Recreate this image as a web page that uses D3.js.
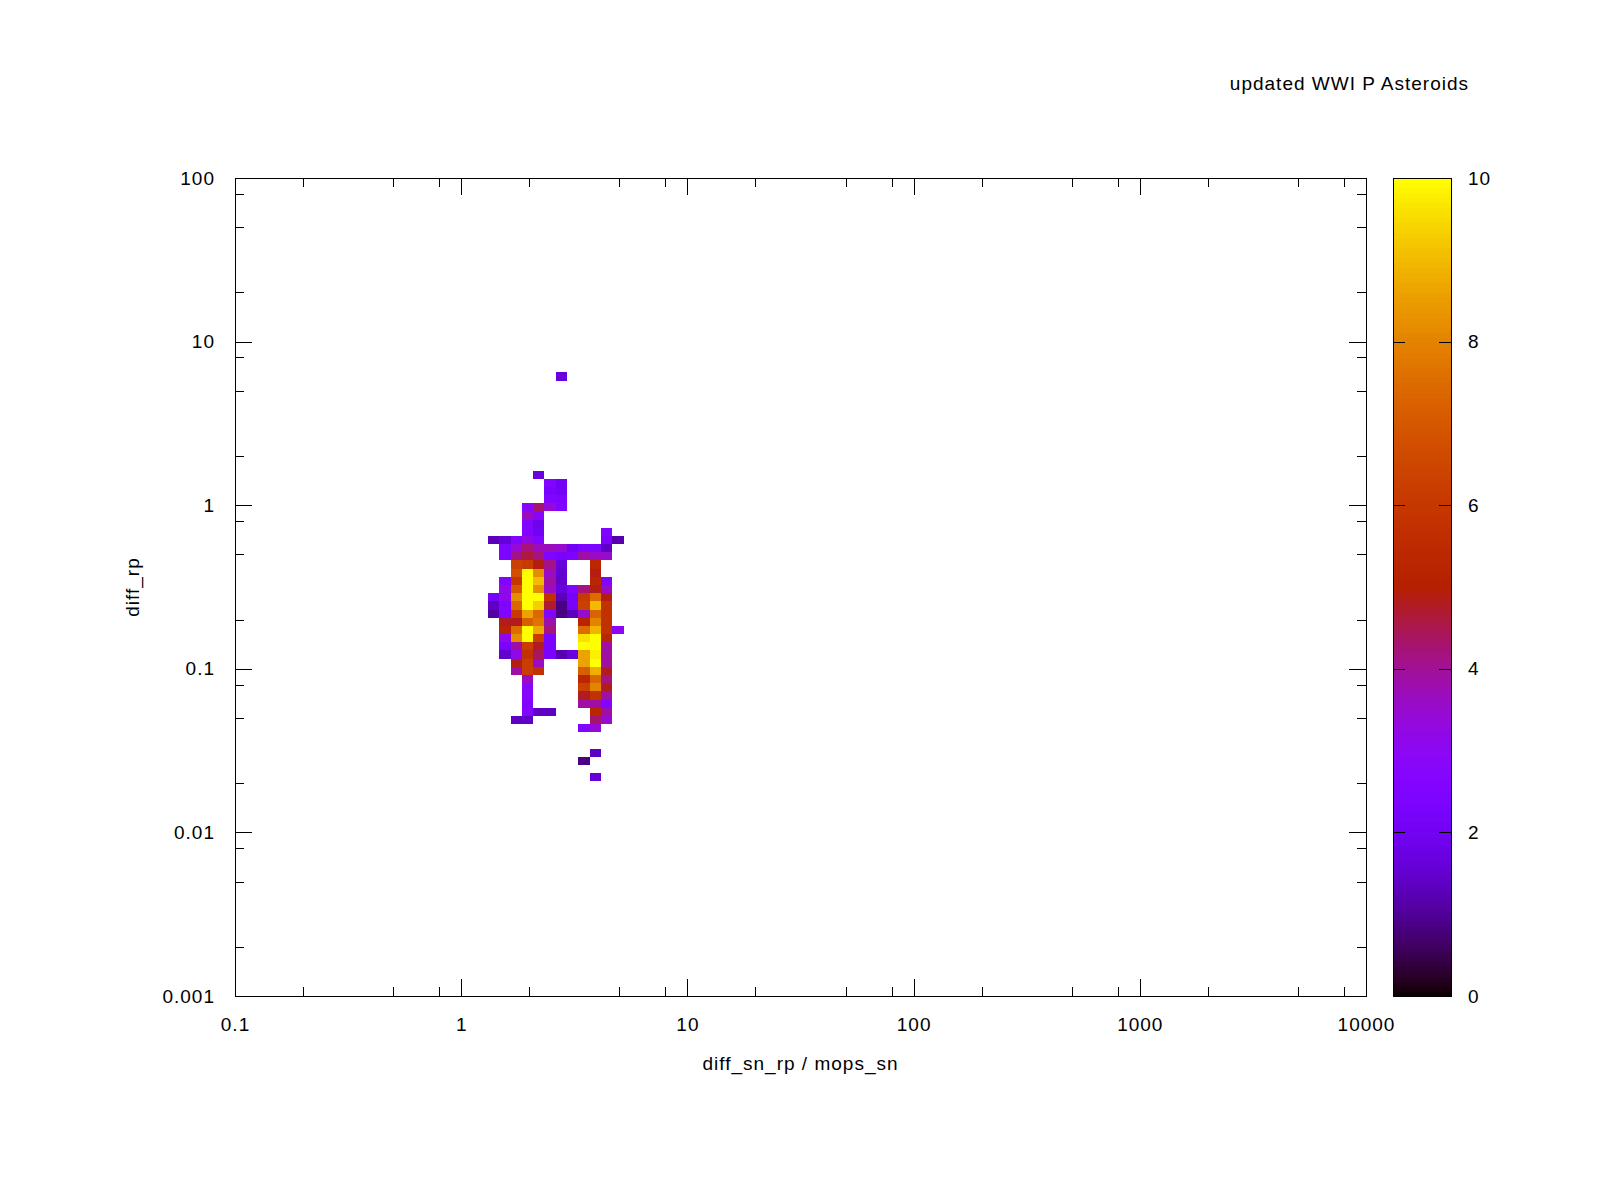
<!DOCTYPE html>
<html lang="en">
<head>
<meta charset="utf-8">
<title>updated WWI P Asteroids</title>
<script src="https://d3js.org/d3.v7.min.js"></script>
<style>
  body { margin: 0; background: #fff; }
  text { font-family: "Liberation Sans", Arial, sans-serif; font-size: 19px; letter-spacing: 1px; fill: #000; }
</style>
</head>
<body>
<script>
// ---- data ----
const _ = null;
const chartTitle = "updated WWI P Asteroids";
const xTitle = "diff_sn_rp / mops_sn";
const yTitle = "diff_rp";

const xTicks = [0.1, 1, 10, 100, 1000, 10000];
const xTickLabels = ["0.1", "1", "10", "100", "1000", "10000"];
const yTicks = [0.001, 0.01, 0.1, 1, 10, 100];
const yTickLabels = ["0.001", "0.01", "0.1", "1", "10", "100"];
const cbTicks = [0, 2, 4, 6, 8, 10];

// histogram bins, in log10 units
const binSize = 0.05;
const colLeftLog = [0.118, 0.168, 0.218, 0.268, 0.318, 0.368, 0.418, 0.468, 0.518, 0.568, 0.618, 0.668];
const rowTopLog = [
   0.812,  0.212,  0.162,  0.112,  0.062,  0.012, -0.038, -0.088, -0.138, -0.188,
  -0.238, -0.288, -0.338, -0.388, -0.438, -0.488, -0.538, -0.588, -0.638, -0.688,
  -0.738, -0.788, -0.838, -0.888, -0.938, -0.988, -1.038, -1.088, -1.138, -1.188,
  -1.238, -1.288, -1.338, -1.488, -1.538, -1.638
];
const cellValues = [
  [_,_,_,_,_,_,1.7,_,_,_,_,_],
  [_,_,_,_,1.7,_,_,_,_,_,_,_],
  [_,_,_,_,_,2.5,2.0,_,_,_,_,_],
  [_,_,_,_,_,2.3,2.1,_,_,_,_,_],
  [_,_,_,_,_,2.5,2.4,_,_,_,_,_],
  [_,_,_,2.8,4.3,3.4,2.5,_,_,_,_,_],
  [_,_,_,3.6,2.8,_,_,_,_,_,_,_],
  [_,_,_,2.5,1.9,_,_,_,_,_,_,_],
  [_,_,_,2.5,2.0,_,_,_,_,_,2.5,_],
  [1.3,1.6,2.5,3.3,2.5,_,_,_,_,_,2.3,1.2],
  [_,2.4,3.4,4.2,3.7,3.7,3.5,2.0,2.4,2.4,1.4,_],
  [_,2.4,4.1,4.6,4.2,2.5,2.3,2.4,3.9,3.6,3.5,_],
  [_,_,6.3,6.1,4.9,4.1,1.7,_,_,5.4,_,_],
  [_,_,6.8,10,8.2,3.6,1.5,_,_,4.9,_,_],
  [_,2.5,6.0,10,9.0,3.9,1.5,_,_,5.3,2.5,_],
  [_,3.2,7.0,10,8.2,3.6,1.7,2.5,4.2,4.9,3.6,_],
  [2.2,3.1,8.2,10,10,5.8,1.3,2.2,6.1,7.5,4.9,_],
  [1.4,2.5,7.4,10,9.3,4.7,0.85,2.2,6.3,9.0,5.8,_],
  [1.1,2.5,6.1,8.6,7.4,2.5,0.85,1.3,3.5,7.3,5.8,_],
  [_,4.8,4.8,7.2,7.7,3.8,_,_,5.2,8.0,5.8,_],
  [_,5.2,7.5,10,8.7,4.2,_,_,7.5,8.9,5.8,3.0],
  [_,3.2,8.2,10,6.2,2.3,_,_,9.6,10,5.3,_],
  [_,2.3,3.9,6.2,4.8,2.3,_,_,10,10,3.9,_],
  [_,1.5,3.2,5.8,4.4,2.3,1.2,1.7,8.6,9.8,3.9,_],
  [_,_,4.9,6.2,3.6,_,_,_,8.6,10,3.9,_],
  [_,_,3.9,6.2,5.8,_,_,_,7.2,8.8,4.8,_],
  [_,_,_,3.6,_,_,_,_,5.3,7.4,4.2,_],
  [_,_,_,2.8,_,_,_,_,6.3,8.0,4.8,_],
  [_,_,_,2.8,_,_,_,_,4.8,5.8,3.9,_],
  [_,_,_,2.5,_,_,_,_,3.9,3.9,2.5,_],
  [_,_,_,2.5,1.4,1.4,_,_,_,5.3,3.9,_],
  [_,_,1.4,1.4,_,_,_,_,_,4.3,3.5,_],
  [_,_,_,_,_,_,_,_,2.5,3.4,_,_],
  [_,_,_,_,_,_,_,_,_,1.4,_,_],
  [_,_,_,_,_,_,_,_,0.85,_,_,_],
  [_,_,_,_,_,_,_,_,_,1.6,_,_]
];

// ---- layout ----
const w = 1600, h = 1200;
const plotL = 235, plotR = 1366, plotT = 178, plotB = 996;
const cbL = 1393, cbR = 1451;

const svg = d3.select("body").append("svg")
    .attr("width", w).attr("height", h);
svg.append("rect").attr("width", w).attr("height", h).attr("fill", "#fff");

const x = d3.scaleLog().domain([0.1, 10000]).range([plotL, plotR]);
const y = d3.scaleLog().domain([0.001, 100]).range([plotB, plotT]);
const cb = d3.scaleLinear().domain([0, 10]).range([plotB, plotT]);

// gnuplot default palette (rgbformulae 7,5,15)
function palette(v) {
  const t = Math.max(0, Math.min(1, v / 10));
  const r = Math.sqrt(t), g = t * t * t, b = Math.max(0, Math.sin(2 * Math.PI * t));
  return d3.rgb(r * 255, g * 255, b * 255).toString();
}

// flatten cells
const cells = [];
cellValues.forEach((row, ri) => {
  row.forEach((v, ci) => {
    if (v !== null) cells.push({ x0: colLeftLog[ci], y0: rowTopLog[ri], v: v });
  });
});

svg.append("g").attr("shape-rendering", "crispEdges")
  .selectAll("rect").data(cells).enter().append("rect")
    .attr("x", d => x(Math.pow(10, d.x0)))
    .attr("y", d => y(Math.pow(10, d.y0)))
    .attr("width", d => x(Math.pow(10, d.x0 + binSize)) - x(Math.pow(10, d.x0)))
    .attr("height", d => y(Math.pow(10, d.y0 - binSize)) - y(Math.pow(10, d.y0)))
    .attr("fill", d => palette(d.v));

// minor ticks at 2, 5, 8 of each decade
const xMinor = [], yMinor = [];
xTicks.slice(0, -1).forEach(t => [2, 5, 8].forEach(m => xMinor.push(t * m)));
yTicks.slice(0, -1).forEach(t => [2, 5, 8].forEach(m => yMinor.push(t * m)));

function styleAxis(g) {
  g.select(".domain").remove();
  g.selectAll("line").attr("stroke", "#000").attr("stroke-width", 1);
  g.selectAll("text").style("font-size", "19px").style("letter-spacing", "1px").attr("fill", "#000")
    .style("font-family", "'Liberation Sans', Arial, sans-serif");
}

const ax = svg.append("g").attr("shape-rendering", "crispEdges");
// bottom
ax.append("g").attr("transform", `translate(0,${plotB})`)
  .call(d3.axisBottom(x).tickValues(xTicks).tickFormat((d, i) => xTickLabels[i])
        .tickSizeInner(-17).tickSizeOuter(0).tickPadding(22))
  .call(styleAxis);
ax.append("g").attr("transform", `translate(0,${plotB})`)
  .call(d3.axisBottom(x).tickValues(xMinor).tickFormat("").tickSizeInner(-9).tickSizeOuter(0))
  .call(styleAxis);
// top mirror
ax.append("g").attr("transform", `translate(0,${plotT})`)
  .call(d3.axisTop(x).tickValues(xTicks).tickFormat("").tickSizeInner(-17).tickSizeOuter(0))
  .call(styleAxis);
ax.append("g").attr("transform", `translate(0,${plotT})`)
  .call(d3.axisTop(x).tickValues(xMinor).tickFormat("").tickSizeInner(-9).tickSizeOuter(0))
  .call(styleAxis);
// left
ax.append("g").attr("transform", `translate(${plotL},0)`)
  .call(d3.axisLeft(y).tickValues(yTicks).tickFormat((d, i) => yTickLabels[i])
        .tickSizeInner(-17).tickSizeOuter(0).tickPadding(20))
  .call(styleAxis);
ax.append("g").attr("transform", `translate(${plotL},0)`)
  .call(d3.axisLeft(y).tickValues(yMinor).tickFormat("").tickSizeInner(-9).tickSizeOuter(0))
  .call(styleAxis);
// right mirror
ax.append("g").attr("transform", `translate(${plotR},0)`)
  .call(d3.axisRight(y).tickValues(yTicks).tickFormat("").tickSizeInner(-17).tickSizeOuter(0))
  .call(styleAxis);
ax.append("g").attr("transform", `translate(${plotR},0)`)
  .call(d3.axisRight(y).tickValues(yMinor).tickFormat("").tickSizeInner(-9).tickSizeOuter(0))
  .call(styleAxis);

// border
ax.append("rect")
  .attr("x", plotL).attr("y", plotT)
  .attr("width", plotR - plotL).attr("height", plotB - plotT)
  .attr("fill", "none").attr("stroke", "#000").attr("stroke-width", 1);

// colour box
const nSteps = 164;
const steps = d3.range(nSteps).map(i => i * 10 / nSteps);
svg.append("g").attr("shape-rendering", "crispEdges")
  .selectAll("rect").data(steps).enter().append("rect")
    .attr("x", cbL).attr("width", cbR - cbL)
    .attr("y", d => cb(d + 10 / nSteps))
    .attr("height", d => cb(d) - cb(d + 10 / nSteps) + 0.5)
    .attr("fill", d => palette(d + 5 / nSteps));

const cbg = svg.append("g").attr("shape-rendering", "crispEdges");
cbg.append("g").attr("transform", `translate(${cbL},0)`)
  .call(d3.axisLeft(cb).tickValues(cbTicks).tickFormat("").tickSizeInner(-12).tickSizeOuter(0))
  .call(styleAxis);
cbg.append("g").attr("transform", `translate(${cbR},0)`)
  .call(d3.axisRight(cb).tickValues(cbTicks).tickFormat(d3.format("d"))
        .tickSizeInner(-12).tickSizeOuter(0).tickPadding(17))
  .call(styleAxis);
cbg.append("rect")
  .attr("x", cbL).attr("y", plotT)
  .attr("width", cbR - cbL).attr("height", plotB - plotT)
  .attr("fill", "none").attr("stroke", "#000").attr("stroke-width", 1);

// titles
svg.append("text")
  .attr("x", 1469).attr("y", 90)
  .attr("text-anchor", "end")
  .text(chartTitle);

svg.append("text")
  .attr("x", (plotL + plotR) / 2).attr("y", 1070)
  .attr("text-anchor", "middle")
  .text(xTitle);

svg.append("text")
  .attr("transform", `translate(139,${(plotT + plotB) / 2}) rotate(-90)`)
  .attr("text-anchor", "middle")
  .text(yTitle);
</script>
</body>
</html>
